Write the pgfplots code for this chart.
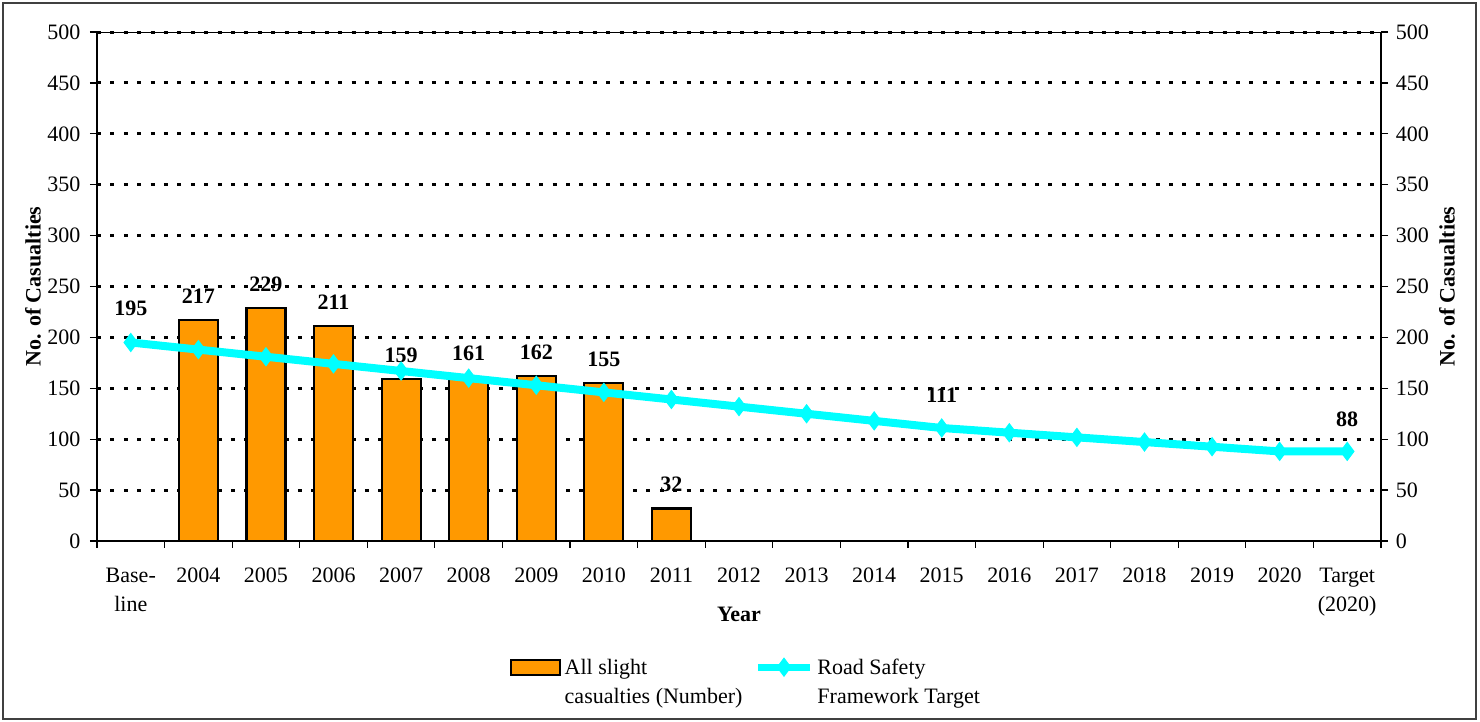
\documentclass[border=0pt]{standalone}
\usepackage{fontspec}
\setmainfont{Liberation Serif}
\usepackage{pgfplots}
\pgfplotsset{compat=1.18}
\definecolor{barorange}{HTML}{FF9900}
\definecolor{aqua}{HTML}{00FFFF}
\begin{document}
\fontsize{11}{13.5}\selectfont
\begin{tikzpicture}
\path[use as bounding box] (-48.5pt,-90.5pt) rectangle (691.5pt,270.5pt);
\begin{axis}[
  at={(0pt,0pt)}, anchor=south west,
  scale only axis, width=642pt, height=254.5pt,
  xmin=-0.5, xmax=18.5, ymin=0, ymax=500,
  axis x line*=bottom, axis y line*=left,
  axis line style={line width=1pt, -},
  xtick={-0.5,0.5,...,18.5},
  xticklabels={{Base-\\line},2004,2005,2006,2007,2008,2009,2010,2011,2012,2013,2014,2015,2016,2017,2018,2019,2020,{Target\\(2020)},{}},
  xticklabel style={align=center, anchor=north, xshift=16.895pt, yshift=-6pt, font=\fontsize{11}{14.5}\selectfont},
  ytick={50,100,...,500},
  extra y ticks={0},
  extra y tick style={grid=none},
  yticklabel style={xshift=-1pt},
  tick align=outside,
  major tick length=3.5pt,
  tick style={black, line width=0.6pt},
  /pgf/number format/assume math mode=true,
  ymajorgrids,
  grid style={black, line width=1.5pt, dash pattern=on 2pt off 4.7pt},
  xlabel={\bfseries Year},
  xlabel style={at={(axis description cs:0.5,-0.1434)}, anchor=center},
  ylabel={\bfseries No. of Casualties},
  ylabel style={at={(axis description cs:-0.0498,0.5)}, anchor=center},
  legend style={draw=none, fill=none, at={(axis description cs:0.3163,-0.215)}, anchor=north west,
    legend columns=2, font=\fontsize{11}{14.5}\selectfont,
    cells={anchor=west, align=left},
    /tikz/every even column/.append style={column sep=4pt}},
  clip=false,
]
\addplot[ybar, bar width=19.5pt, fill=barorange, draw=black, line width=1.1pt,
  nodes near coords,
  every node near coord/.append style={font=\bfseries, yshift=4pt},
  legend image code/.code={\draw[fill=barorange, draw=black, line width=1.1pt] (0pt,4pt) rectangle (24.5pt,11.5pt);}]
  coordinates {(1,217) (2,229) (3,211) (4,159) (5,161) (6,162) (7,155) (8,32)};
\addlegendentry{All slight\\casualties (Number)}
\addplot[aqua, line width=4pt, mark=diamond*, mark size=4.5pt,
  mark options={fill=aqua, draw=aqua, line width=0.5pt},
  legend image code/.code={\draw[aqua, line width=3.5pt, mark=diamond*, mark size=4.5pt, mark options={fill=aqua, draw=aqua, line width=0.5pt}, mark repeat=2, mark phase=2] plot coordinates {(0pt,7.75pt) (13pt,7.75pt) (26pt,7.75pt)};}]
  coordinates {(0,195) (1,188) (2,181) (3,174) (4,167) (5,160) (6,153) (7,146) (8,139) (9,132) (10,125) (11,118) (12,111) (13,106.4) (14,101.8) (15,97.2) (16,92.6) (17,88) (18,88)};
\addlegendentry{Road Safety\\Framework Target}
\draw[line width=0.5pt] (rel axis cs:0,1) -- (rel axis cs:1,1);
\node[font=\bfseries] at (axis cs:0,195) [yshift=17pt] {195};
\node[font=\bfseries] at (axis cs:12,111) [yshift=16.5pt] {111};
\node[font=\bfseries] at (axis cs:18,88) [yshift=16pt] {88};
\end{axis}
\begin{axis}[
  at={(0pt,0pt)}, anchor=south west,
  scale only axis, width=642pt, height=254.5pt,
  xmin=-0.5, xmax=18.5, ymin=0, ymax=500,
  axis x line=none, axis y line*=right,
  axis line style={line width=1pt, -},
  ytick={0,50,...,500},
  tick align=outside,
  major tick length=3.5pt,
  tick style={black, line width=0.6pt},
  /pgf/number format/assume math mode=true,
  ylabel={\bfseries No. of Casualties},
  ylabel style={at={(axis description cs:1.0514,0.5)}, anchor=center},
]
\end{axis}
\draw[line width=1pt, black!75] (-47pt,-89pt) rectangle (689.5pt,269pt);
\end{tikzpicture}
\end{document}
